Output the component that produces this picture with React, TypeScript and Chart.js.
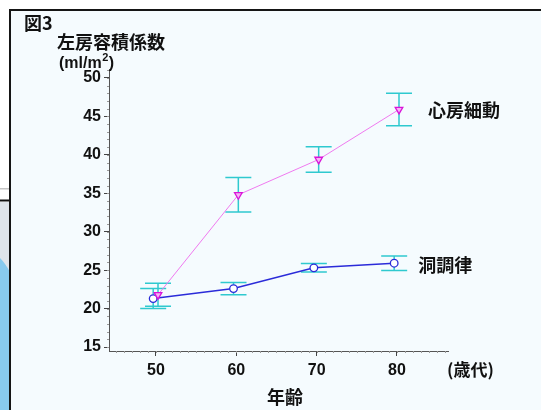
import React, { useEffect, useRef } from 'react';
import { Chart, registerables } from 'chart.js';

Chart.register(...registerables);

// ---- data ----
const ages = [50, 60, 70, 80];
const afMean = [21.8, 34.8, 39.4, 45.9];
const afErr = [1.5, 2.25, 1.65, 2.1];
const srMean = [21.3, 22.6, 25.3, 25.9];
const srErr = [1.3, 0.8, 0.55, 0.95];
const xTicks = [50, 60, 70, 80];
const yTicks = [15, 20, 25, 30, 35, 40, 45, 50];
const seriesNames = ['心房細動', '洞調律'];
const figLabel = '図3';
const yTitle = '左房容積係数';
const yUnitBase = '(ml/m';
const yUnitSup = '2';
const yUnitEnd = ')';
const xTitle = '年齢';
const xUnit = '(歳代)';

const afDodge = 0.25;
const srDodge = -0.35;

const W = 541;
const H = 410;
const CJK = '"Noto Sans CJK JP", "Noto Sans CJK SC", sans-serif';
const LAT = '"Liberation Sans", Arial, sans-serif';
const ERR_COLOR = '#2fc9cf';

const backgroundPlugin = {
  id: 'bg',
  beforeDraw(chart: any) {
    const ctx = chart.ctx;
    ctx.save();
    ctx.fillStyle = '#ffffff';
    ctx.fillRect(0, 0, W, H);
    // left outside strip artifacts
    ctx.fillStyle = '#c4c4c4';
    ctx.fillRect(0, 188, 9, 1.5);
    ctx.fillStyle = '#111111';
    ctx.fillRect(0, 199.5, 9, 2);
    ctx.fillStyle = '#dfe4ea';
    ctx.fillRect(0, 202, 9, H - 202);
    ctx.fillStyle = '#88caee';
    ctx.beginPath();
    ctx.moveTo(0, 258);
    ctx.quadraticCurveTo(5, 263, 10, 272);
    ctx.lineTo(10, H);
    ctx.lineTo(0, H);
    ctx.closePath();
    ctx.fill();
    // inner panel
    ctx.fillStyle = '#f5fbfe';
    ctx.fillRect(10, 10, W - 10, H - 10);
    // frame
    ctx.fillStyle = '#151515';
    ctx.fillRect(9, 9, W - 9, 2);
    ctx.fillRect(9, 9, 2, H - 9);
    ctx.restore();
  },
};

const errorBarPlugin = {
  id: 'errbars',
  beforeDatasetsDraw(chart: any) {
    const ctx = chart.ctx;
    const xs = chart.scales.x;
    const ys = chart.scales.y;
    const sets = [
      { mean: afMean, err: afErr, dodge: afDodge },
      { mean: srMean, err: srErr, dodge: srDodge },
    ];
    ctx.save();
    ctx.strokeStyle = ERR_COLOR;
    ctx.lineWidth = 1.5;
    sets.forEach((s) => {
      ages.forEach((a, i) => {
        const px = xs.getPixelForValue(a + s.dodge);
        const top = ys.getPixelForValue(s.mean[i] + s.err[i]);
        const bot = ys.getPixelForValue(s.mean[i] - s.err[i]);
        ctx.beginPath();
        ctx.moveTo(px, top);
        ctx.lineTo(px, bot);
        ctx.moveTo(px - 13, top);
        ctx.lineTo(px + 13, top);
        ctx.moveTo(px - 13, bot);
        ctx.lineTo(px + 13, bot);
        ctx.stroke();
      });
    });
    ctx.restore();
  },
};

const textPlugin = {
  id: 'texts',
  afterDraw(chart: any) {
    const ctx = chart.ctx;
    const xs = chart.scales.x;
    const ys = chart.scales.y;
    const area = chart.chartArea;
    ctx.save();
    // minor ticks
    ctx.strokeStyle = '#9a9a9a';
    ctx.lineWidth = 1;
    ctx.beginPath();
    for (let v = Math.ceil(ys.min); v <= ys.max; v++) {
      const py = Math.round(ys.getPixelForValue(v)) + 0.5;
      ctx.moveTo(area.left - 2, py);
      ctx.lineTo(area.left, py);
    }
    for (let v = Math.ceil(xs.min); v <= xs.max; v++) {
      const px = Math.round(xs.getPixelForValue(v)) + 0.5;
      ctx.moveTo(px, area.bottom);
      ctx.lineTo(px, area.bottom + 2);
    }
    ctx.stroke();

    ctx.fillStyle = '#111111';
    ctx.textBaseline = 'middle';
    ctx.textAlign = 'left';
    ctx.font = `bold 18px ${CJK}`;
    ctx.fillText(figLabel, 24, 23);
    ctx.font = `bold 18px ${CJK}`;
    ctx.fillText(yTitle, 57, 42);

    // unit with superscript
    ctx.font = `bold 16px ${LAT}`;
    let ux = 59;
    ctx.fillText(yUnitBase, ux, 64);
    ux += ctx.measureText(yUnitBase).width + 0.5;
    ctx.font = `bold 11px ${LAT}`;
    ctx.fillText(yUnitSup, ux, 58);
    ux += ctx.measureText(yUnitSup).width + 0.5;
    ctx.font = `bold 16px ${LAT}`;
    ctx.fillText(yUnitEnd, ux, 64);

    ctx.font = `bold 17px ${CJK}`;
    ctx.fillText(xUnit, 447, 370);
    ctx.font = `bold 18px ${CJK}`;
    ctx.fillText(xTitle, 267, 397);

    // series annotations near last points
    const last = ages.length - 1;
    ctx.font = `bold 18px ${CJK}`;
    ctx.fillText(
      seriesNames[0],
      xs.getPixelForValue(ages[last] + afDodge) + 29,
      ys.getPixelForValue(afMean[last]) + 1
    );
    ctx.fillText(
      seriesNames[1],
      xs.getPixelForValue(ages[last] + srDodge) + 24,
      ys.getPixelForValue(srMean[last]) + 2
    );
    ctx.restore();
  },
};

export default function App() {
  const ref = useRef<HTMLCanvasElement | null>(null);

  useEffect(() => {
    if (!ref.current) return;
    const chart = new Chart(ref.current, {
      type: 'scatter',
      data: {
        datasets: [
          {
            label: seriesNames[0],
            data: ages.map((a, i) => ({ x: a + afDodge, y: afMean[i] })),
            showLine: true,
            borderColor: '#f07af0',
            borderWidth: 1,
            pointStyle: 'triangle',
            rotation: 180,
            pointRadius: 4.4,
            pointBackgroundColor: '#f6b4f6',
            pointBorderColor: '#d914d9',
            pointBorderWidth: 1.3,
          },
          {
            label: seriesNames[1],
            data: ages.map((a, i) => ({ x: a + srDodge, y: srMean[i] })),
            showLine: true,
            borderColor: '#2b2bd9',
            borderWidth: 1.5,
            pointStyle: 'circle',
            pointRadius: 3.8,
            pointBackgroundColor: '#ffffff',
            pointBorderColor: '#2b2bd9',
            pointBorderWidth: 1.3,
          },
        ],
      },
      options: {
        animation: false,
        responsive: false,
        devicePixelRatio: 1,
        layout: { padding: { top: 69, right: 93, left: 0, bottom: 0 } },
        plugins: {
          legend: { display: false },
          tooltip: { enabled: false },
        },
        scales: {
          x: {
            type: 'linear',
            min: 44.15,
            max: 86.35,
            afterBuildTicks: (scale: any) => {
              scale.ticks = xTicks.map((v) => ({ value: v }));
            },
            afterFit: (scale: any) => {
              scale.height = 59;
            },
            grid: { drawOnChartArea: false, drawTicks: true, tickLength: 5, color: '#444' },
            border: { display: true, color: '#555', width: 1 },
            ticks: {
              color: '#111',
              font: { family: LAT, size: 16, weight: 'bold' },
              padding: 5,
              maxRotation: 0,
              autoSkip: false,
            },
          },
          y: {
            type: 'linear',
            min: 14.48,
            max: 51.17,
            afterBuildTicks: (scale: any) => {
              scale.ticks = yTicks.map((v) => ({ value: v }));
            },
            afterFit: (scale: any) => {
              scale.width = 109;
            },
            grid: { drawOnChartArea: false, drawTicks: true, tickLength: 5, color: '#444' },
            border: { display: true, color: '#555', width: 1 },
            ticks: {
              color: '#111',
              font: { family: LAT, size: 16, weight: 'bold' },
              padding: 3,
              autoSkip: false,
            },
          },
        },
      },
      plugins: [backgroundPlugin, errorBarPlugin, textPlugin],
    } as any);
    return () => chart.destroy();
  }, []);

  return (
    <div style={{ position: 'absolute', left: 0, top: 0, width: W, height: H }}>
      <canvas ref={ref} width={W} height={H} style={{ display: 'block', width: W, height: H }} />
    </div>
  );
}
